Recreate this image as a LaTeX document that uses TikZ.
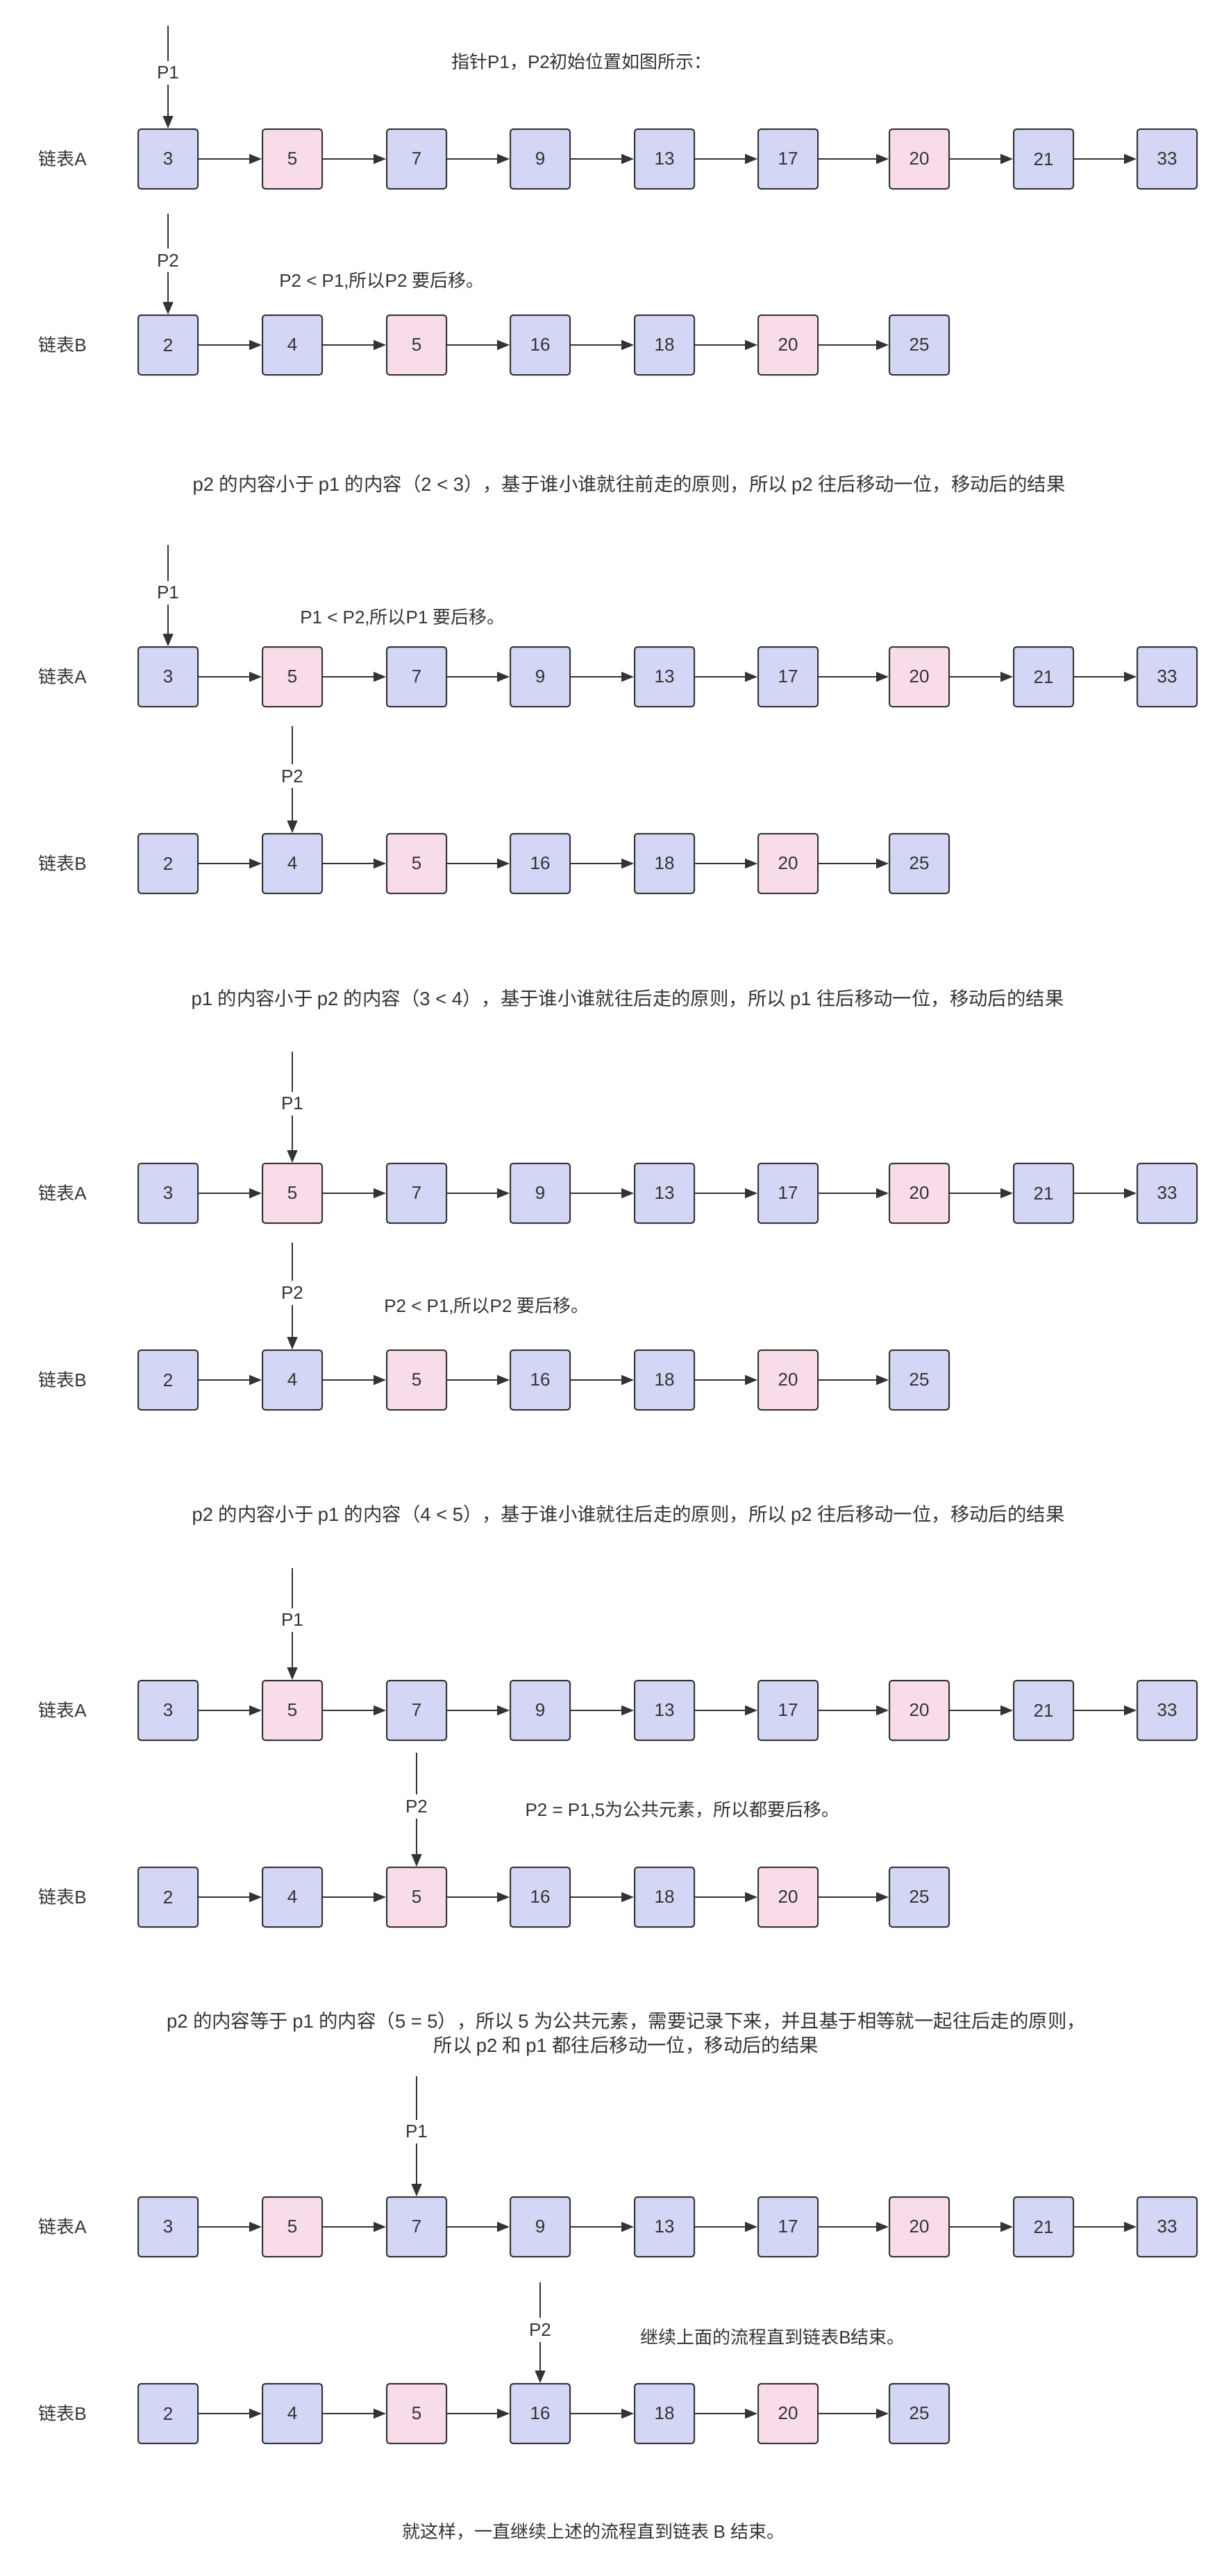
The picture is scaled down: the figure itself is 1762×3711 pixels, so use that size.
\documentclass[tikz,border=0pt]{standalone}
\usepackage{fontspec}
\setmainfont{Liberation Sans}
\newfontfamily\cjk{Noto Sans CJK SC}
\newfontfamily\lat{Liberation Sans}
\usepackage{tikz}
\usetikzlibrary{arrows.meta}

\XeTeXinterchartokenstate=1
\newXeTeXintercharclass\cjkcls
\newcount\cjkidx
\cjkidx="3000 \loop \XeTeXcharclass\cjkidx=\cjkcls \ifnum\cjkidx<"303F \advance\cjkidx by 1 \repeat
\cjkidx="4E00 \loop \XeTeXcharclass\cjkidx=\cjkcls \ifnum\cjkidx<"9FFF \advance\cjkidx by 1 \repeat
\cjkidx="FF00 \loop \XeTeXcharclass\cjkidx=\cjkcls \ifnum\cjkidx<"FFEF \advance\cjkidx by 1 \repeat
\XeTeXinterchartoks 0 \cjkcls = {\cjk}
\XeTeXinterchartoks 4095 \cjkcls = {\cjk}
\XeTeXinterchartoks \cjkcls 0 = {\lat}
\XeTeXinterchartoks 4095 0 = {\lat}

\definecolor{cellblue}{RGB}{211,214,245}
\definecolor{cellpink}{RGB}{249,220,234}
\definecolor{inkgray}{RGB}{51,51,51}

\tikzset{
  cell/.style={draw=inkgray, line width=1pt, rounded corners=2pt, fill=cellblue,
    minimum width=43pt, minimum height=43pt, inner sep=0pt, text=inkgray,
    font=\fontsize{13}{16}\selectfont},
  pcell/.style={cell, fill=cellpink},
  link/.style={draw=inkgray, line width=1pt, -{Triangle[length=9pt,width=7pt]}},
  ptr/.style={draw=inkgray, line width=0.6pt},
  ptrhead/.style={ptr, -{Triangle[length=9pt,width=7.5pt]}},
  ptrname/.style={fill=white, inner sep=4pt, text=inkgray, font=\fontsize{13}{16}\selectfont},
  note/.style={text=inkgray, font=\fontsize{13}{17.5}\selectfont, align=center},
  caption/.style={note, font=\fontsize{13.7}{17.5}\selectfont},
}

\begin{document}
\begin{tikzpicture}[x=0.5pt,y=-0.5pt]
\useasboundingbox (0,0) rectangle (1762,3711);

\node[note] (title) at (838,89) {指针P1，P2初始位置如图所示：};
\node[note] (s1lA) at (90,229) {链表A};
\node[note] (s1lB) at (90,497) {链表B};
\node[cell] (s1a1) at (242,229) {3};
\node[pcell] (s1a2) at (421,229) {5};
\node[cell] (s1a3) at (600,229) {7};
\node[cell] (s1a4) at (778,229) {9};
\node[cell] (s1a5) at (957,229) {13};
\node[cell] (s1a6) at (1135,229) {17};
\node[pcell] (s1a7) at (1324,229) {20};
\node[cell] (s1a8) at (1503,229) {21};
\node[cell] (s1a9) at (1681,229) {33};
\node[cell] (s1b1) at (242,497) {2};
\node[cell] (s1b2) at (421,497) {4};
\node[pcell] (s1b3) at (600,497) {5};
\node[cell] (s1b4) at (778,497) {16};
\node[cell] (s1b5) at (957,497) {18};
\node[pcell] (s1b6) at (1135,497) {20};
\node[cell] (s1b7) at (1324,497) {25};
\path (s1a1) edge[link] (s1a2) (s1a2) edge[link] (s1a3) (s1a3) edge[link] (s1a4) (s1a4) edge[link] (s1a5)
      (s1a5) edge[link] (s1a6) (s1a6) edge[link] (s1a7) (s1a7) edge[link] (s1a8) (s1a8) edge[link] (s1a9);
\path (s1b1) edge[link] (s1b2) (s1b2) edge[link] (s1b3) (s1b3) edge[link] (s1b4) (s1b4) edge[link] (s1b5)
      (s1b5) edge[link] (s1b6) (s1b6) edge[link] (s1b7);
\coordinate (s1p1top) at (242,37);
\node[ptrname] (s1p1) at (242,105) {P1};
\draw[ptr] (s1p1top) -- (s1p1);
\draw[ptrhead] (s1p1) -- (s1a1);
\coordinate (s1p2top) at (242,308);
\node[ptrname] (s1p2) at (242,375) {P2};
\draw[ptr] (s1p2top) -- (s1p2);
\draw[ptrhead] (s1p2) -- (s1b1);
\node[note] (s1note) at (550,404) {P2 < P1,所以P2 要后移。};
\node[caption] (s1cap) at (906,699) {p2 的内容小于 p1 的内容（2 < 3），基于谁小谁就往前走的原则，所以 p2 往后移动一位，移动后的结果};

\node[note] (s2lA) at (90,975) {链表A};
\node[note] (s2lB) at (90,1244) {链表B};
\node[cell] (s2a1) at (242,975) {3};
\node[pcell] (s2a2) at (421,975) {5};
\node[cell] (s2a3) at (600,975) {7};
\node[cell] (s2a4) at (778,975) {9};
\node[cell] (s2a5) at (957,975) {13};
\node[cell] (s2a6) at (1135,975) {17};
\node[pcell] (s2a7) at (1324,975) {20};
\node[cell] (s2a8) at (1503,975) {21};
\node[cell] (s2a9) at (1681,975) {33};
\node[cell] (s2b1) at (242,1244) {2};
\node[cell] (s2b2) at (421,1244) {4};
\node[pcell] (s2b3) at (600,1244) {5};
\node[cell] (s2b4) at (778,1244) {16};
\node[cell] (s2b5) at (957,1244) {18};
\node[pcell] (s2b6) at (1135,1244) {20};
\node[cell] (s2b7) at (1324,1244) {25};
\path (s2a1) edge[link] (s2a2) (s2a2) edge[link] (s2a3) (s2a3) edge[link] (s2a4) (s2a4) edge[link] (s2a5)
      (s2a5) edge[link] (s2a6) (s2a6) edge[link] (s2a7) (s2a7) edge[link] (s2a8) (s2a8) edge[link] (s2a9);
\path (s2b1) edge[link] (s2b2) (s2b2) edge[link] (s2b3) (s2b3) edge[link] (s2b4) (s2b4) edge[link] (s2b5)
      (s2b5) edge[link] (s2b6) (s2b6) edge[link] (s2b7);
\coordinate (s2p1top) at (242,785);
\node[ptrname] (s2p1) at (242,854) {P1};
\draw[ptr] (s2p1top) -- (s2p1);
\draw[ptrhead] (s2p1) -- (s2a1);
\coordinate (s2p2top) at (421,1046);
\node[ptrname] (s2p2) at (421,1118) {P2};
\draw[ptr] (s2p2top) -- (s2p2);
\draw[ptrhead] (s2p2) -- (s2b2);
\node[note] (s2note) at (580,889) {P1 < P2,所以P1 要后移。};
\node[caption] (s2cap) at (904,1440) {p1 的内容小于 p2 的内容（3 < 4），基于谁小谁就往后走的原则，所以 p1 往后移动一位，移动后的结果};

\node[note] (s3lA) at (90,1719) {链表A};
\node[note] (s3lB) at (90,1988) {链表B};
\node[cell] (s3a1) at (242,1719) {3};
\node[pcell] (s3a2) at (421,1719) {5};
\node[cell] (s3a3) at (600,1719) {7};
\node[cell] (s3a4) at (778,1719) {9};
\node[cell] (s3a5) at (957,1719) {13};
\node[cell] (s3a6) at (1135,1719) {17};
\node[pcell] (s3a7) at (1324,1719) {20};
\node[cell] (s3a8) at (1503,1719) {21};
\node[cell] (s3a9) at (1681,1719) {33};
\node[cell] (s3b1) at (242,1988) {2};
\node[cell] (s3b2) at (421,1988) {4};
\node[pcell] (s3b3) at (600,1988) {5};
\node[cell] (s3b4) at (778,1988) {16};
\node[cell] (s3b5) at (957,1988) {18};
\node[pcell] (s3b6) at (1135,1988) {20};
\node[cell] (s3b7) at (1324,1988) {25};
\path (s3a1) edge[link] (s3a2) (s3a2) edge[link] (s3a3) (s3a3) edge[link] (s3a4) (s3a4) edge[link] (s3a5)
      (s3a5) edge[link] (s3a6) (s3a6) edge[link] (s3a7) (s3a7) edge[link] (s3a8) (s3a8) edge[link] (s3a9);
\path (s3b1) edge[link] (s3b2) (s3b2) edge[link] (s3b3) (s3b3) edge[link] (s3b4) (s3b4) edge[link] (s3b5)
      (s3b5) edge[link] (s3b6) (s3b6) edge[link] (s3b7);
\coordinate (s3p1top) at (421,1515);
\node[ptrname] (s3p1) at (421,1590) {P1};
\draw[ptr] (s3p1top) -- (s3p1);
\draw[ptrhead] (s3p1) -- (s3a2);
\coordinate (s3p2top) at (421,1790);
\node[ptrname] (s3p2) at (421,1862) {P2};
\draw[ptr] (s3p2top) -- (s3p2);
\draw[ptrhead] (s3p2) -- (s3b2);
\node[note] (s3note) at (701,1881) {P2 < P1,所以P2 要后移。};
\node[caption] (s3cap) at (905,2183) {p2 的内容小于 p1 的内容（4 < 5），基于谁小谁就往后走的原则，所以 p2 往后移动一位，移动后的结果};

\node[note] (s4lA) at (90,2464) {链表A};
\node[note] (s4lB) at (90,2733) {链表B};
\node[cell] (s4a1) at (242,2464) {3};
\node[pcell] (s4a2) at (421,2464) {5};
\node[cell] (s4a3) at (600,2464) {7};
\node[cell] (s4a4) at (778,2464) {9};
\node[cell] (s4a5) at (957,2464) {13};
\node[cell] (s4a6) at (1135,2464) {17};
\node[pcell] (s4a7) at (1324,2464) {20};
\node[cell] (s4a8) at (1503,2464) {21};
\node[cell] (s4a9) at (1681,2464) {33};
\node[cell] (s4b1) at (242,2733) {2};
\node[cell] (s4b2) at (421,2733) {4};
\node[pcell] (s4b3) at (600,2733) {5};
\node[cell] (s4b4) at (778,2733) {16};
\node[cell] (s4b5) at (957,2733) {18};
\node[pcell] (s4b6) at (1135,2733) {20};
\node[cell] (s4b7) at (1324,2733) {25};
\path (s4a1) edge[link] (s4a2) (s4a2) edge[link] (s4a3) (s4a3) edge[link] (s4a4) (s4a4) edge[link] (s4a5)
      (s4a5) edge[link] (s4a6) (s4a6) edge[link] (s4a7) (s4a7) edge[link] (s4a8) (s4a8) edge[link] (s4a9);
\path (s4b1) edge[link] (s4b2) (s4b2) edge[link] (s4b3) (s4b3) edge[link] (s4b4) (s4b4) edge[link] (s4b5)
      (s4b5) edge[link] (s4b6) (s4b6) edge[link] (s4b7);
\coordinate (s4p1top) at (421,2259);
\node[ptrname] (s4p1) at (421,2334) {P1};
\draw[ptr] (s4p1top) -- (s4p1);
\draw[ptrhead] (s4p1) -- (s4a2);
\coordinate (s4p2top) at (600,2525);
\node[ptrname] (s4p2) at (600,2602) {P2};
\draw[ptr] (s4p2top) -- (s4p2);
\draw[ptrhead] (s4p2) -- (s4b3);
\node[note] (s4note) at (983,2607) {P2 = P1,5为公共元素，所以都要后移。};
\node[caption] (s4cap) at (902,2930) {p2 的内容等于 p1 的内容（5 = 5），所以 5 为公共元素，需要记录下来，并且基于相等就一起往后走的原则，\\所以 p2 和 p1 都往后移动一位，移动后的结果};

\node[note] (s5lA) at (90,3208) {链表A};
\node[note] (s5lB) at (90,3477) {链表B};
\node[cell] (s5a1) at (242,3208) {3};
\node[pcell] (s5a2) at (421,3208) {5};
\node[cell] (s5a3) at (600,3208) {7};
\node[cell] (s5a4) at (778,3208) {9};
\node[cell] (s5a5) at (957,3208) {13};
\node[cell] (s5a6) at (1135,3208) {17};
\node[pcell] (s5a7) at (1324,3208) {20};
\node[cell] (s5a8) at (1503,3208) {21};
\node[cell] (s5a9) at (1681,3208) {33};
\node[cell] (s5b1) at (242,3477) {2};
\node[cell] (s5b2) at (421,3477) {4};
\node[pcell] (s5b3) at (600,3477) {5};
\node[cell] (s5b4) at (778,3477) {16};
\node[cell] (s5b5) at (957,3477) {18};
\node[pcell] (s5b6) at (1135,3477) {20};
\node[cell] (s5b7) at (1324,3477) {25};
\path (s5a1) edge[link] (s5a2) (s5a2) edge[link] (s5a3) (s5a3) edge[link] (s5a4) (s5a4) edge[link] (s5a5)
      (s5a5) edge[link] (s5a6) (s5a6) edge[link] (s5a7) (s5a7) edge[link] (s5a8) (s5a8) edge[link] (s5a9);
\path (s5b1) edge[link] (s5b2) (s5b2) edge[link] (s5b3) (s5b3) edge[link] (s5b4) (s5b4) edge[link] (s5b5)
      (s5b5) edge[link] (s5b6) (s5b6) edge[link] (s5b7);
\coordinate (s5p1top) at (600,2991);
\node[ptrname] (s5p1) at (600,3071) {P1};
\draw[ptr] (s5p1top) -- (s5p1);
\draw[ptrhead] (s5p1) -- (s5a3);
\coordinate (s5p2top) at (778,3288);
\node[ptrname] (s5p2) at (778,3356) {P2};
\draw[ptr] (s5p2top) -- (s5p2);
\draw[ptrhead] (s5p2) -- (s5b4);
\node[note] (s5note) at (1113,3367) {继续上面的流程直到链表B结束。};
\node[note] (ending) at (855,3647) {就这样，一直继续上述的流程直到链表 B 结束。};
\end{tikzpicture}
\end{document}
